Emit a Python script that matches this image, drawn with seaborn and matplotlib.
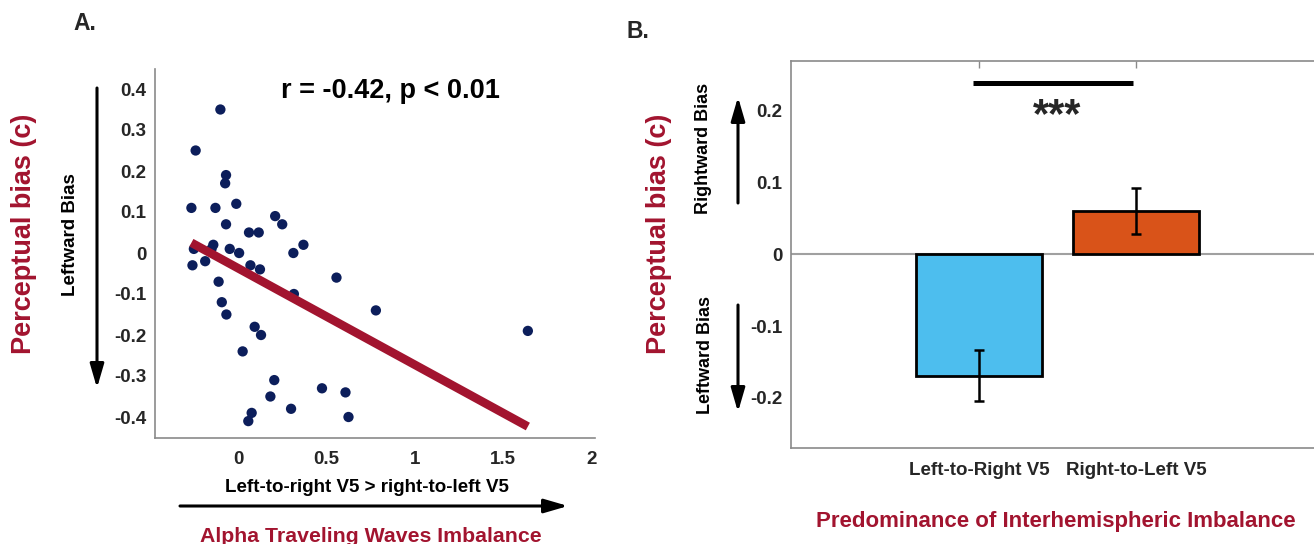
import numpy as np
import pandas as pd
import matplotlib
matplotlib.use("Agg")
import matplotlib.pyplot as plt
import seaborn as sns

# === Data ===
# Panel A: alpha traveling waves imbalance vs perceptual bias
imbalance = [-0.10, -0.24, -0.068, -0.073, -0.264, -0.128, -0.01, -0.068, 0.21, 0.25,
             0.062, 0.117, 0.37, 0.313, 0.006, -0.047, -0.14, -0.15, -0.25, -0.258,
             -0.186, 0.07, 0.124, 0.557, -0.11, 0.316, -0.092, -0.066, 0.78, 1.64,
             0.094, 0.13, 0.026, 0.205, 0.475, 0.608, 0.183, 0.30, 0.077, 0.058, 0.625]
bias = [0.35, 0.25, 0.19, 0.17, 0.11, 0.11, 0.12, 0.07, 0.09, 0.07,
        0.05, 0.05, 0.02, 0.0, 0.0, 0.01, 0.02, 0.01, 0.01, -0.03,
        -0.02, -0.03, -0.04, -0.06, -0.07, -0.10, -0.12, -0.15, -0.14, -0.19,
        -0.18, -0.20, -0.24, -0.31, -0.33, -0.34, -0.35, -0.38, -0.39, -0.41, -0.40]
a_xticks = [0, 0.5, 1, 1.5, 2]
a_xticklabels = ["0", "0.5", "1", "1.5", "2"]
a_yticks = [0.4, 0.3, 0.2, 0.1, 0, -0.1, -0.2, -0.3, -0.4]
a_yticklabels = ["0.4", "0.3", "0.2", "0.1", "0", "-0.1", "-0.2", "-0.3", "-0.4"]

# Panel B: mean perceptual bias per predominant direction
groups = ["Left-to-Right V5", "Right-to-Left V5"]
group_bias = [-0.169, 0.061]
group_sem = [0.035, 0.032]
b_yticks = [0.2, 0.1, 0, -0.1, -0.2]
b_yticklabels = ["0.2", "0.1", "0", "-0.1", "-0.2"]

RED = "#A2142F"
NAVY = "#0C1E5B"
TXT = "#262626"
SPINE = "#8a8a8a"
W, H = 1314, 544

sns.set_style("white")
plt.rcParams["font.family"] = ["Liberation Sans", "DejaVu Sans"]
plt.rcParams["font.weight"] = "bold"


def fx(px):
    return px / W


def fy(py):
    return 1 - py / H


fig = plt.figure(figsize=(W / 100, H / 100), dpi=100)

# ---------- Panel A ----------
axA = fig.add_axes([fx(155), fy(437.5), fx(595) - fx(155), fy(68.5) - fy(437.5)])
df = pd.DataFrame({"imbalance": imbalance, "bias": bias})
sns.regplot(data=df, x="imbalance", y="bias", scatter=False, ci=None, truncate=True,
            line_kws=dict(color=RED, lw=6.2, solid_capstyle="butt"), ax=axA)
sns.scatterplot(data=df, x="imbalance", y="bias", color=NAVY, s=55, edgecolor="none",
                ax=axA, zorder=1)
axA.set_xlim(-0.47, 2.02)
axA.set_ylim(-0.45, 0.45)
axA.set_xticks(a_xticks, a_xticklabels)
axA.set_yticks(a_yticks, a_yticklabels)
axA.set_xlabel("")
axA.set_ylabel("")
for s in ["top", "right"]:
    axA.spines[s].set_visible(False)
for s in ["left", "bottom"]:
    axA.spines[s].set_color(SPINE)
    axA.spines[s].set_linewidth(1.2)
axA.tick_params(axis="both", direction="in", length=5, width=1, color=SPINE,
                labelsize=13.5, labelcolor=TXT)
axA.tick_params(axis="x", pad=10)
axA.tick_params(axis="y", pad=6)
axA.text(0.535, 0.94, "r = -0.42, p < 0.01", transform=axA.transAxes, ha="center",
         va="center", fontsize=19.5, fontweight="bold", color="black")

fig.text(fx(85), fy(24), "A.", fontsize=16.5, fontweight="bold", ha="center", va="center")
fig.text(fx(24.5), fy(234), "Perceptual bias (c)", rotation=90, fontsize=19.5,
         fontweight="bold", color=RED, ha="center", va="center")
fig.text(fx(70.5), fy(235), "Leftward Bias", rotation=90, fontsize=13.5,
         fontweight="bold", color="black", ha="center", va="center")
fig.text(fx(367), fy(487), "Left-to-right V5 > right-to-left V5", fontsize=13.5,
         fontweight="bold", color="black", ha="center", va="center")
fig.text(fx(371), fy(536), "Alpha Traveling Waves Imbalance", fontsize=15.3,
         fontweight="bold", color=RED, ha="center", va="center")

arrow = dict(arrowstyle="-|>,head_length=1.2,head_width=0.35", lw=2.2, color="black",
             shrinkA=0, shrinkB=0, mutation_scale=12)
fig.add_artist(plt.Annotation("", xy=(fx(97), fy(388)), xytext=(fx(97), fy(88)),
                              xycoords="figure fraction", arrowprops=arrow))
fig.add_artist(plt.Annotation("", xy=(fx(568), fy(506)), xytext=(fx(180), fy(506)),
                              xycoords="figure fraction", arrowprops=arrow))

# ---------- Panel B ----------
axB = fig.add_axes([fx(790.6), fy(448), fx(1324.4) - fx(790.6), fy(60.7) - fy(448)])
dfb = pd.DataFrame({"group": groups, "bias": group_bias})
axB.axhline(0, color="#a0a0a0", lw=1.5, zorder=0)
sns.barplot(data=dfb, x="group", y="bias", hue="group", palette=["#4DBEEE", "#D95319"],
            saturation=1, width=0.8, edgecolor="black", linewidth=2, legend=False,
            ax=axB, zorder=2)
axB.errorbar(range(len(groups)), group_bias, yerr=group_sem, fmt="none", ecolor="black",
             elinewidth=1.8, capsize=3.5, capthick=1.8, zorder=3)
axB.set_xlim(-1.2, 2.2)
axB.set_ylim(-0.27, 0.27)
axB.set_yticks(b_yticks, b_yticklabels)
axB.set_xlabel("")
axB.set_ylabel("")
for s in axB.spines.values():
    s.set_color(SPINE)
    s.set_linewidth(1.2)
axB.tick_params(axis="both", direction="in", length=5, width=1, color=SPINE,
                labelsize=13.5, labelcolor=TXT, top=True, right=True)
axB.tick_params(axis="x", pad=10)
axB.tick_params(axis="y", pad=6)

# significance bracket
axB.plot([-0.04, 0.98], [0.239, 0.239], color="black", lw=3.6, solid_capstyle="butt")
axB.text(0.5, 0.177, "***", ha="center", va="baseline", fontsize=30, fontweight="bold")

fig.text(fx(638), fy(31), "B.", fontsize=16.5, fontweight="bold", ha="center", va="center")
fig.text(fx(659), fy(234), "Perceptual bias (c)", rotation=90, fontsize=19.5,
         fontweight="bold", color=RED, ha="center", va="center")
fig.text(fx(704), fy(148), "Rightward Bias", rotation=90, fontsize=13,
         fontweight="bold", color="black", ha="center", va="center")
fig.text(fx(706), fy(355), "Leftward Bias", rotation=90, fontsize=13,
         fontweight="bold", color="black", ha="center", va="center")
fig.text(fx(1056), fy(521), "Predominance of Interhemispheric Imbalance", fontsize=16,
         fontweight="bold", color=RED, ha="center", va="center")
fig.add_artist(plt.Annotation("", xy=(fx(738), fy(97)), xytext=(fx(738), fy(203)),
                              xycoords="figure fraction", arrowprops=arrow))
fig.add_artist(plt.Annotation("", xy=(fx(738), fy(412)), xytext=(fx(738), fy(305)),
                              xycoords="figure fraction", arrowprops=arrow))

fig.savefig("out.png", dpi=100)
